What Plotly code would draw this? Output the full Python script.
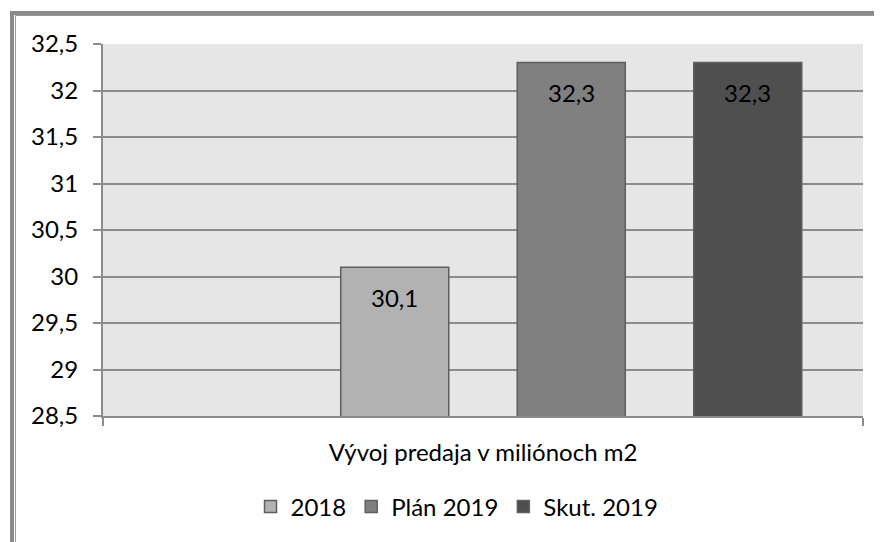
import plotly.graph_objects as go

category = ["Vývoj predaja v miliónoch m2"]
series_names = ["", "2018", "Plán 2019", "Skut. 2019"]
series_values = [None, 30.1, 32.3, 32.3]
series_colors = ["#ffffff", "#b2b2b2", "#808080", "#4f4f4f"]
y_ticks = [28.5, 29, 29.5, 30, 30.5, 31, 31.5, 32, 32.5]

FONT = "Lato"
FS = 24
BARGAP = 0.071
BARGROUPGAP = 0.388
OFF = 8  # browser body margin

fig = go.Figure()
for name, val, col in zip(series_names, series_values, series_colors):
    fig.add_trace(go.Bar(
        x=category, y=[val], name=name,
        marker=dict(color=col, line=dict(color="#5f5f5f", width=1.5)),
        showlegend=bool(name),
        hoverinfo="skip",
    ))

# data labels inside bars near top
n = len(series_names)
slot = (1 - BARGAP) / n
for i, val in enumerate(series_values):
    if val is None:
        continue
    xc = -0.5 + BARGAP / 2 + slot * (i + 0.5)
    fig.add_annotation(x=xc, y=val, xref="x", yref="y", text=f"{val:.1f}".replace(".", ","),
                       showarrow=False, yshift=-30, font=dict(family=FONT, size=FS, color="#000000"))

W, H = 882 - OFF, 542 - OFF
L, T, R, B = 103 - OFF, 44 - OFF, 863 - OFF, 416 - OFF

def px(xp):
    return (xp - OFF - L) / (R - L)

def py(yp):
    return (B - (yp - OFF)) / (B - T)

# outer chart frame (thick + thin line)
fig.add_shape(type="rect", xref="paper", yref="paper", x0=px(12), y0=py(600), x1=px(950), y1=py(13),
              line=dict(color="#8a8a8a", width=4), fillcolor="rgba(0,0,0,0)", layer="below")
fig.add_shape(type="rect", xref="paper", yref="paper", x0=px(15.5), y0=py(600), x1=px(950), y1=py(15.5),
              line=dict(color="#9a9a9a", width=1), fillcolor="rgba(0,0,0,0)", layer="below")

fig.update_layout(
    width=W, height=H,
    margin=dict(l=L, r=W - R, t=T, b=H - B, autoexpand=False),
    paper_bgcolor="#ffffff",
    plot_bgcolor="#e6e6e6",
    barmode="group",
    bargap=BARGAP,
    bargroupgap=BARGROUPGAP,
    separators=", ",
    font=dict(family=FONT, size=FS, color="#000000"),
    showlegend=True,
    legend=dict(orientation="h", x=px(457), xanchor="center", y=py(507), yanchor="middle",
                font=dict(family=FONT, size=FS, color="#000000"), traceorder="normal",
                itemwidth=30, bgcolor="rgba(0,0,0,0)"),
)
fig.update_yaxes(range=[28.5, 32.5], tickvals=y_ticks, showgrid=True, gridcolor="#8c8c8c", gridwidth=2,
                 showline=True, linecolor="#8c8c8c", linewidth=2, ticks="outside", ticklen=8,
                 tickcolor="#8c8c8c", tickwidth=2, zeroline=False, ticklabelstandoff=10,
                 tickfont=dict(family=FONT, size=FS))
fig.update_xaxes(showline=True, linecolor="#8c8c8c", linewidth=2, ticks="outside", ticklen=8,
                 tickcolor="#8c8c8c", tickwidth=2, tickson="boundaries", showgrid=False,
                 ticklabelstandoff=14, tickfont=dict(family=FONT, size=FS))

fig.write_html("out.html")
